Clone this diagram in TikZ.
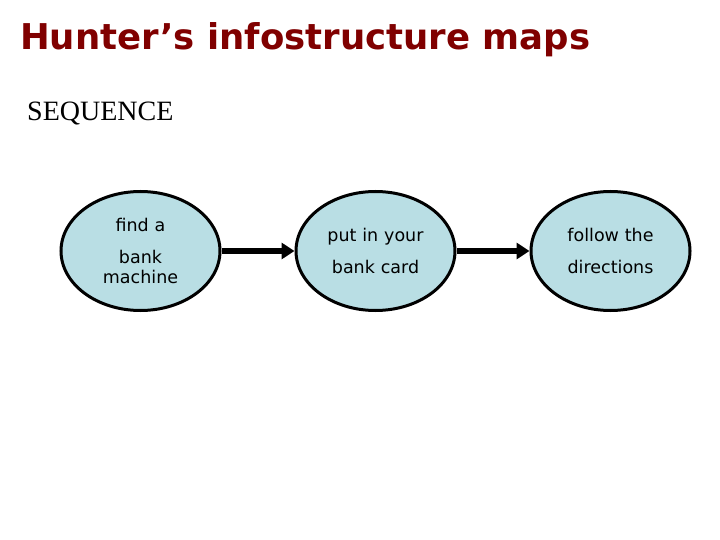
\documentclass[tikz,border=0pt]{standalone}
\usepackage{fontspec}
\setmainfont{Liberation Serif}
\newfontfamily\verdfont{DejaVu Sans}
\usetikzlibrary{shapes.geometric}
\usetikzlibrary{arrows.meta}
\definecolor{titlered}{RGB}{128,0,0}
\definecolor{bubblefill}{RGB}{185,222,228}

\begin{document}
\begin{tikzpicture}[x=1pt,y=1pt]

% Define block styles
\tikzstyle{bubble} = [ellipse, draw, line width=3pt, fill=bubblefill,
    minimum width=159pt, minimum height=119pt, inner sep=0pt, text width=104pt,
    align=center, font=\verdfont\fontsize{17.5}{20}\selectfont]
\tikzstyle{line} = [draw, line width=6pt, -{Triangle[length=13pt,width=16pt]}];

\useasboundingbox (0,0) rectangle (720,-540);

\node [anchor=base west, inner sep=0pt, text=titlered,
    font=\verdfont\bfseries\fontsize{35.5}{40}\selectfont] (title) at (20,-50) {Hunter’s infostructure maps};
\node [anchor=base west, inner sep=0pt, font=\fontsize{28}{32}\selectfont] (seq) at (27,-121) {SEQUENCE};

\node [bubble] (find) at (140.5,-251) {find a\\[12.6pt] bank\\ machine};
\node [bubble, right of=find, node distance=235pt] (card) {put in your\\[11.6pt] bank card};
\node [bubble, right of=card, node distance=235pt] (follow) {follow the\\[11.6pt] directions};

\path [line] (find) -- (card);
\path [line] (card) -- (follow);

\end{tikzpicture}
\end{document}
